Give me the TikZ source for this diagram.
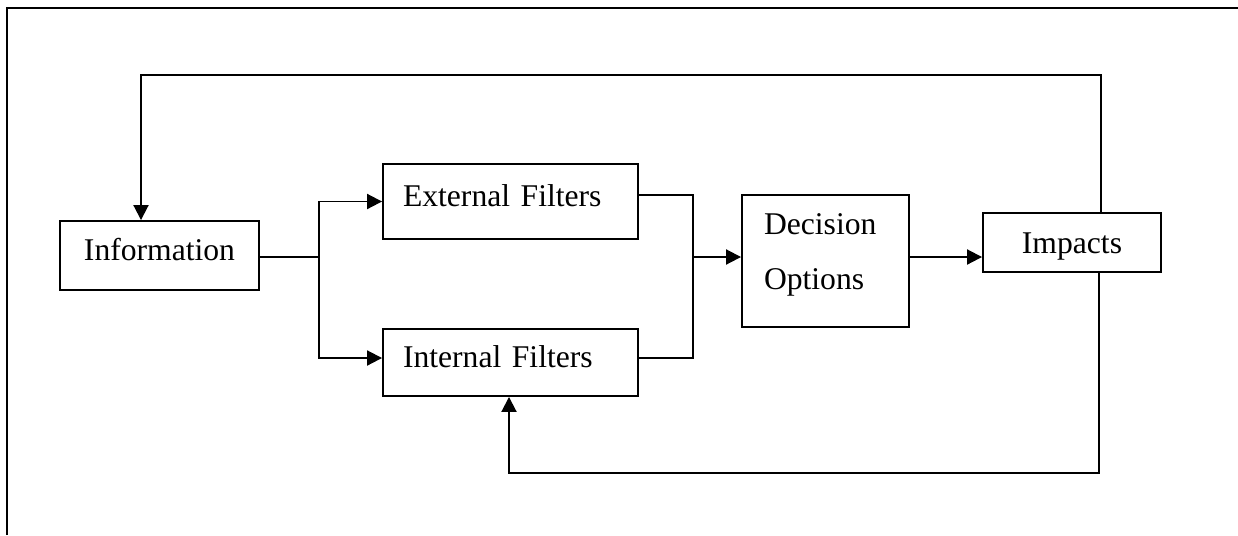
\documentclass[tikz,border=0pt]{standalone}
\usepackage{fontspec}
\setmainfont{Liberation Serif}
\usetikzlibrary{arrows.meta}
\tikzset{
  block/.style={draw,line width=1.1pt,font=\fontsize{18}{31}\selectfont,inner sep=0pt},
  oneline/.style={text height=0.45cm,text depth=0.25cm},
  link/.style={line width=1.1pt},
  flow/.style={link,-{Triangle[length=0.3cm,width=0.3cm]}}
}
\begin{document}
\begin{tikzpicture}[x=0.02cm,y=-0.02cm]
\useasboundingbox (0,0) rectangle (1238,535);
\draw[line width=1.2pt] (7,535) -- (7,8) -- (1238,8);

\node[block,oneline,minimum width=3.98cm,minimum height=1.38cm] (info) at (159.5,255.5) {Information};
\node[block,oneline,align=left,text width=4.3cm,inner xsep=0.4cm,minimum height=1.5cm] (ext) at (510.5,201.5) {External Filters};
\node[block,oneline,align=left,text width=4.3cm,inner xsep=0.4cm,minimum height=1.34cm] (int) at (510.5,362.5) {Internal Filters};
\node[block,align=left,text width=2.46cm,inner xsep=0.44cm,minimum height=2.64cm,text depth=1.47cm] (dec) at (825.5,261) {Decision\\Options};
\node[block,oneline,text depth=0.03cm,minimum width=3.56cm,minimum height=1.18cm] (imp) at (1072,242.5) {Impacts};

\coordinate (split) at (319,257);
\coordinate (join) at (693,257);
\coordinate (topturn) at (141,75);
\coordinate (botturn) at (509,473);

\draw[link] (info.east |- split) -- (split);
\draw[flow] (split) |- (ext.west);
\draw[flow] (split) |- ([yshift=0.09cm]int.west);
\draw[link] ([yshift=0.13cm]ext.east) -| (join);
\draw[link] ([yshift=0.09cm]int.east) -| (join);
\draw[flow] (join) -- (dec.west |- join);
\draw[flow] (dec.east |- join) -- (imp.west |- join);
\draw[flow] ([xshift=0.58cm]imp.north) |- (topturn) -- (topturn |- info.north);
\draw[flow] ([xshift=0.54cm]imp.south) |- (botturn) -- (botturn |- int.south);
\end{tikzpicture}
\end{document}
